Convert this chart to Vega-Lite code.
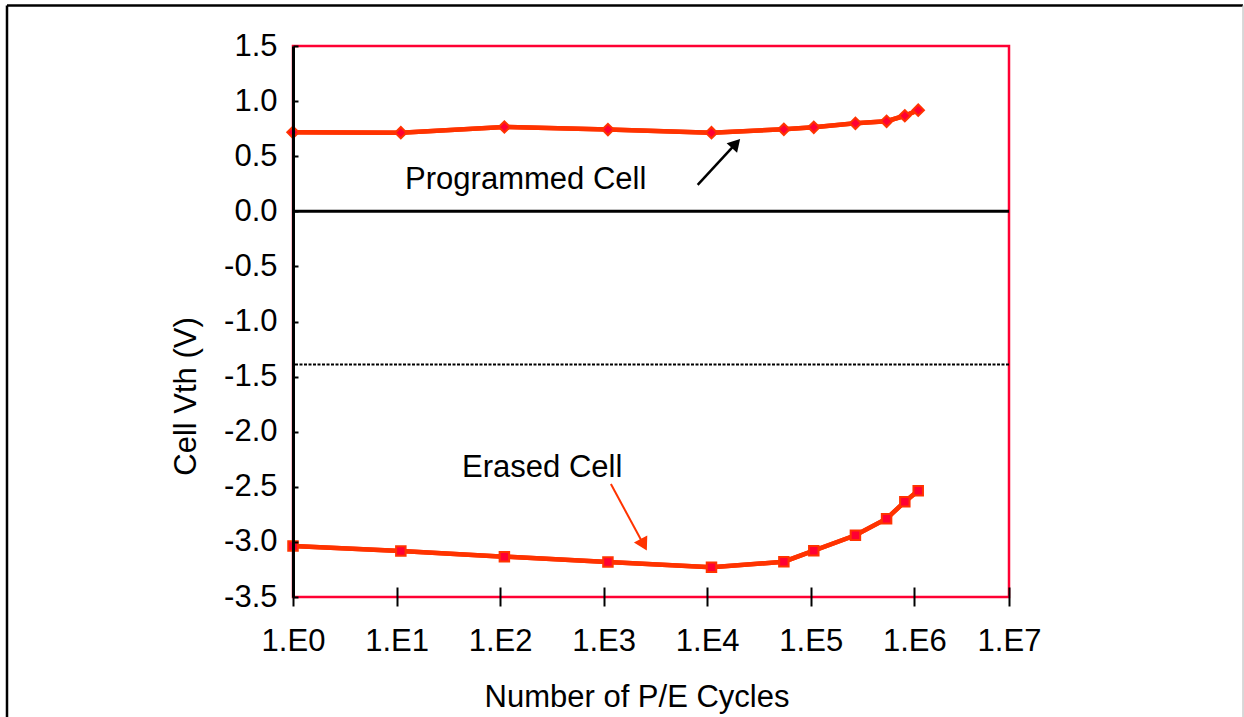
{
  "$schema": "https://vega.github.io/schema/vega-lite/v6.json",
  "width": 716,
  "height": 551,
  "autosize": "none",
  "padding": {"left": 293, "top": 46, "right": 235, "bottom": 120},
  "background": "white",
  "config": {
    "font": "Liberation Sans",
    "view": {"stroke": "#FF0033", "strokeWidth": 2.5}
  },
  "datasets": {
    "cells": [
      {"series": "Programmed", "cycles": 1, "vth": 0.717},
      {"series": "Programmed", "cycles": 11, "vth": 0.713},
      {"series": "Programmed", "cycles": 110, "vth": 0.765},
      {"series": "Programmed", "cycles": 1100, "vth": 0.742},
      {"series": "Programmed", "cycles": 11000, "vth": 0.713},
      {"series": "Programmed", "cycles": 55000, "vth": 0.744},
      {"series": "Programmed", "cycles": 107000, "vth": 0.762},
      {"series": "Programmed", "cycles": 270000, "vth": 0.798},
      {"series": "Programmed", "cycles": 540000, "vth": 0.817},
      {"series": "Programmed", "cycles": 810000, "vth": 0.867},
      {"series": "Programmed", "cycles": 1100000, "vth": 0.918},
      {"series": "Erased", "cycles": 1, "vth": -3.037},
      {"series": "Erased", "cycles": 11, "vth": -3.083},
      {"series": "Erased", "cycles": 110, "vth": -3.134},
      {"series": "Erased", "cycles": 1100, "vth": -3.182},
      {"series": "Erased", "cycles": 11000, "vth": -3.23},
      {"series": "Erased", "cycles": 55000, "vth": -3.18},
      {"series": "Erased", "cycles": 107000, "vth": -3.08},
      {"series": "Erased", "cycles": 270000, "vth": -2.94},
      {"series": "Erased", "cycles": 540000, "vth": -2.79},
      {"series": "Erased", "cycles": 810000, "vth": -2.635},
      {"series": "Erased", "cycles": 1100000, "vth": -2.535}
    ],
    "refs": [
      {"name": "zero", "vth": 0},
      {"name": "limit", "vth": -1.39}
    ],
    "arrows": [
      {"target": "Programmed", "cycles": 8090, "vth": 0.239, "cycles2": 18970, "vth2": 0.616},
      {"target": "Erased", "cycles": 1175, "vth": -2.475, "cycles2": 2437, "vth2": -3.026}
    ],
    "labels": [
      {"label": "Programmed Cell", "cycles": 12.1, "vth": 0.202},
      {"label": "Erased Cell", "cycles": 42.9, "vth": -2.411}
    ],
    "frameBlack": [
      {"cycles": 0.00173, "vth": 1.8675, "cycles2": 2960000000, "vth2": 1.8675},
      {"cycles": 0.00173, "vth": 1.8675, "cycles2": 0.00173, "vth2": -6}
    ],
    "frameGrey": [
      {"cycles": 2960000000, "vth": 1.8675, "cycles2": 2960000000, "vth2": -6}
    ]
  },
  "layer": [
    {
      "data": {"name": "cells"},
      "mark": {"type": "line", "color": "#FF3300", "strokeWidth": 4.5},
      "encoding": {
        "x": {
          "field": "cycles",
          "type": "quantitative",
          "title": "Number of P/E Cycles",
          "scale": {"type": "log", "domain": [1, 1000000, 10000000], "range": [0, 621.3, 716], "nice": false},
          "axis": {
            "values": [1, 10, 100, 1000, 10000, 100000, 1000000, 10000000],
            "labelExpr": "'1.E' + round(log(datum.value) / LN10)",
            "domain": false,
            "offset": -10,
            "tickSize": 19,
            "tickColor": "black",
            "tickWidth": 2,
            "grid": false,
            "zindex": 1,
            "labelFontSize": 31,
            "labelColor": "black",
            "labelBaseline": "alphabetic",
            "labelPadding": 44,
            "labelFlush": false,
            "labelOverlap": false,
            "titleFontSize": 31,
            "titleFontWeight": "normal",
            "titleColor": "black",
            "titleX": 343.5,
            "titleY": 119,
            "titleBaseline": "alphabetic"
          }
        },
        "y": {
          "field": "vth",
          "type": "quantitative",
          "title": "Cell Vth (V)",
          "scale": {"domain": [-3.5, 1.5], "nice": false, "zero": false},
          "axis": {
            "values": [-3.5, -3, -2.5, -2, -1.5, -1, -0.5, 0, 0.5, 1, 1.5],
            "labelExpr": "replace(format(datum.value, '.1f'), '\u2212', '-')",
            "domainColor": "black",
            "domainWidth": 3,
            "tickSize": -5,
            "tickColor": "black",
            "tickWidth": 2,
            "grid": false,
            "zindex": 1,
            "labelFontSize": 31,
            "labelColor": "black",
            "labelPadding": 21,
            "labelFlush": false,
            "labelOverlap": false,
            "titleFontSize": 31,
            "titleFontWeight": "normal",
            "titleColor": "black",
            "titleX": -98,
            "titleY": 350,
            "titleBaseline": "alphabetic"
          }
        },
        "detail": {"field": "series"}
      }
    },
    {
      "data": {"name": "refs"},
      "transform": [{"filter": "datum.name === 'zero'"}],
      "mark": {"type": "rule", "color": "black", "strokeWidth": 3},
      "encoding": {"y": {"field": "vth", "type": "quantitative", "title": "Cell Vth (V)"}}
    },
    {
      "data": {"name": "refs"},
      "transform": [{"filter": "datum.name === 'limit'"}],
      "mark": {"type": "rule", "color": "black", "strokeWidth": 2, "strokeDash": [3, 1.5]},
      "encoding": {"y": {"field": "vth", "type": "quantitative", "title": "Cell Vth (V)"}}
    },
    {
      "data": {"name": "cells"},
      "mark": {"type": "line", "color": "#FF3300", "strokeWidth": 4.5},
      "encoding": {
        "x": {"field": "cycles", "type": "quantitative", "title": "Number of P/E Cycles"},
        "y": {"field": "vth", "type": "quantitative", "title": "Cell Vth (V)"},
        "detail": {"field": "series"}
      }
    },
    {
      "data": {"name": "cells"},
      "mark": {"type": "point", "filled": true, "fill": "#FF0033", "stroke": "#FF3300", "strokeWidth": 2, "opacity": 1},
      "encoding": {
        "x": {"field": "cycles", "type": "quantitative", "title": "Number of P/E Cycles"},
        "y": {"field": "vth", "type": "quantitative", "title": "Cell Vth (V)"},
        "shape": {"field": "series", "type": "nominal", "scale": {"domain": ["Programmed", "Erased"], "range": ["diamond", "square"]}, "legend": null},
        "size": {"field": "series", "type": "nominal", "scale": {"domain": ["Programmed", "Erased"], "range": [130, 90]}, "legend": null}
      }
    },
    {
      "data": {"name": "arrows"},
      "mark": {"type": "rule"},
      "encoding": {
        "x": {"field": "cycles", "type": "quantitative", "title": "Number of P/E Cycles"},
        "y": {"field": "vth", "type": "quantitative", "title": "Cell Vth (V)"},
        "x2": {"field": "cycles2"},
        "y2": {"field": "vth2"},
        "color": {"field": "target", "type": "nominal", "scale": {"domain": ["Programmed", "Erased"], "range": ["black", "#FF3300"]}, "legend": null},
        "strokeWidth": {"field": "target", "type": "nominal", "scale": {"domain": ["Programmed", "Erased"], "range": [2.5, 2]}, "legend": null}
      }
    },
    {
      "data": {"name": "arrows"},
      "transform": [{"filter": "datum.target === 'Programmed'"}],
      "mark": {"type": "point", "shape": "triangle-up", "filled": true, "color": "black", "opacity": 1, "size": 200, "angle": 42.4},
      "encoding": {
        "x": {"field": "cycles2", "type": "quantitative", "title": "Number of P/E Cycles"},
        "y": {"field": "vth2", "type": "quantitative", "title": "Cell Vth (V)"}
      }
    },
    {
      "data": {"name": "arrows"},
      "transform": [{"filter": "datum.target === 'Erased'"}],
      "mark": {"type": "point", "shape": "triangle-up", "filled": true, "color": "#FF3300", "opacity": 1, "size": 230, "angle": 151.7},
      "encoding": {
        "x": {"field": "cycles2", "type": "quantitative", "title": "Number of P/E Cycles"},
        "y": {"field": "vth2", "type": "quantitative", "title": "Cell Vth (V)"}
      }
    },
    {
      "data": {"name": "labels"},
      "mark": {"type": "text", "align": "left", "baseline": "alphabetic", "fontSize": 31, "color": "black"},
      "encoding": {
        "x": {"field": "cycles", "type": "quantitative", "title": "Number of P/E Cycles"},
        "y": {"field": "vth", "type": "quantitative", "title": "Cell Vth (V)"},
        "text": {"field": "label"}
      }
    },
    {
      "data": {"name": "frameBlack"},
      "mark": {"type": "rule", "color": "black", "strokeWidth": 2.5},
      "encoding": {
        "x": {"field": "cycles", "type": "quantitative", "title": "Number of P/E Cycles"},
        "y": {"field": "vth", "type": "quantitative", "title": "Cell Vth (V)"},
        "x2": {"field": "cycles2"},
        "y2": {"field": "vth2"}
      }
    },
    {
      "data": {"name": "frameGrey"},
      "mark": {"type": "rule", "color": "#cccccc", "strokeWidth": 1.5},
      "encoding": {
        "x": {"field": "cycles", "type": "quantitative", "title": "Number of P/E Cycles"},
        "y": {"field": "vth", "type": "quantitative", "title": "Cell Vth (V)"},
        "x2": {"field": "cycles2"},
        "y2": {"field": "vth2"}
      }
    }
  ]
}
